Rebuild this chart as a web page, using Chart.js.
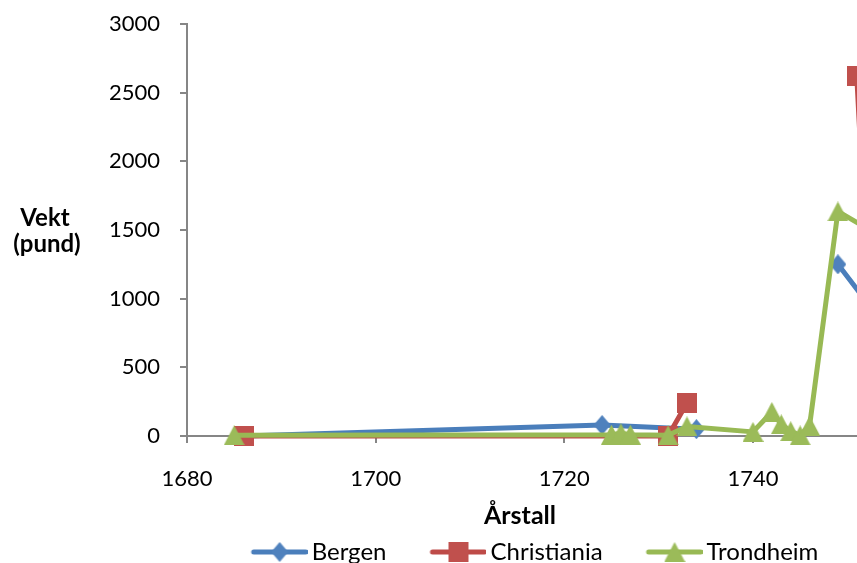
<!DOCTYPE html>
<html>
<head>
<meta charset="utf-8">
<script src="https://cdn.jsdelivr.net/npm/chart.js"></script>
<style>
  html, body { margin: 0; padding: 0; overflow: hidden; background: #fff; }
  #chart { display: block; }
</style>
</head>
<body>
<canvas id="chart" width="1036" height="574"></canvas>
<script>
// data (null = gap in the series)
const bergenYears = [1686, 1724, 1734, 1740, 1749, 1753];
const bergenWeights = [0, 80, 50, null, 1250, 890];
const christianiaYears = [1686, 1731, 1733, 1740, 1751, 1753];
const christianiaWeights = [0, 0, 240, null, 2620, 0];
const trondheimYears = [1685, 1725, 1726, 1727, 1731, 1733, 1740, 1742, 1743, 1744, 1745, 1746, 1749, 1753];
const trondheimWeights = [5, 10, 20, 10, 5, 70, 30, 175, 85, 35, 5, 75, 1635, 1475];
const seriesNames = ['Bergen', 'Christiania', 'Trondheim'];
const yearTicks = [1680, 1700, 1720, 1740, 1760];
const weightTicks = [0, 500, 1000, 1500, 2000, 2500, 3000];

const lineColors = ['#4A7EBB', '#BE4B48', '#98B954'];
const markColors = ['#4F81BD', '#C0504D', '#9BBB59'];

function pairs(xs, ys) {
  return xs.map((x, i) => ({ x: x, y: ys[i] }));
}

// markers as small canvases, Excel style
function marker(kind, color) {
  const c = document.createElement('canvas');
  const w = kind === 'diamond' ? 17 : kind === 'triangle' ? 21 : 20;
  const h = 20;
  c.width = w; c.height = h;
  const g = c.getContext('2d');
  g.fillStyle = color;
  g.beginPath();
  if (kind === 'diamond') {
    g.moveTo(w / 2, 0); g.lineTo(w, h / 2); g.lineTo(w / 2, h); g.lineTo(0, h / 2);
  } else if (kind === 'triangle') {
    g.moveTo(w / 2, 0); g.lineTo(w, h); g.lineTo(0, h);
  } else {
    g.rect(0, 0, w, h);
  }
  g.closePath();
  g.fill();
  return c;
}

// legend icon: line with marker in the middle (left part left blank for spacing)
function legendIcon(mark, color) {
  const c = document.createElement('canvas');
  c.width = 98; c.height = 22;
  const g = c.getContext('2d');
  g.strokeStyle = color;
  g.lineWidth = 5;
  g.lineCap = 'round';
  g.beginPath();
  g.moveTo(44, 11); g.lineTo(96, 11);
  g.stroke();
  g.drawImage(mark, 70 - mark.width / 2, 11 - mark.height / 2);
  return c;
}

const marks = [
  marker('diamond', markColors[0]),
  marker('square', markColors[1]),
  marker('triangle', markColors[2])
];
const legendIcons = marks.map((m, i) => legendIcon(m, lineColors[i]));

const axisTitles = {
  id: 'axisTitles',
  afterDraw(chart) {
    const ctx = chart.ctx;
    ctx.save();
    ctx.fillStyle = '#000';
    ctx.textAlign = 'center';
    ctx.textBaseline = 'middle';
    ctx.font = 'bold 24px Lato';
    ctx.fillText('Vekt', 45, 218);
    ctx.fillText('(pund)', 47, 244);
    ctx.font = 'bold 25px Lato';
    ctx.fillText('Årstall', 520, 516);
    ctx.restore();
  }
};

function dataset(i, xs, ys, order) {
  return {
    label: seriesNames[i],
    data: pairs(xs, ys),
    borderColor: lineColors[i],
    backgroundColor: markColors[i],
    borderWidth: 5,
    borderJoinStyle: 'round',
    borderCapStyle: 'round',
    pointStyle: marks[i],
    pointRadius: 10,
    tension: 0,
    fill: false,
    spanGaps: false,
    clip: false,
    order: order
  };
}

const chart = new Chart(document.getElementById('chart'), {
  type: 'line',
  data: {
    datasets: [
      dataset(0, bergenYears, bergenWeights, 3),
      dataset(1, christianiaYears, christianiaWeights, 2),
      dataset(2, trondheimYears, trondheimWeights, 1)
    ]
  },
  options: {
    responsive: false,
    animation: false,
    layout: { autoPadding: false, padding: { top: 24, left: 0, right: 0, bottom: 0 } },
    scales: {
      x: {
        type: 'linear',
        min: 1680,
        max: 1770,
        afterFit: s => { s.height = 94; s.paddingLeft = 0; s.paddingRight = 0; },
        afterBuildTicks: s => { s.ticks = yearTicks.map(v => ({ value: v })); },
        ticks: {
          autoSkip: false,
          maxRotation: 0,
          padding: 23,
          color: '#000',
          font: { family: 'Lato', size: 22 },
          callback: v => String(v)
        },
        grid: { drawOnChartArea: false, color: '#868686', lineWidth: 2, tickLength: 7 },
        border: { color: '#868686', width: 2 }
      },
      y: {
        min: 0,
        max: 3000,
        afterFit: s => { s.width = 187; s.paddingTop = 0; s.paddingBottom = 0; },
        afterBuildTicks: s => { s.ticks = weightTicks.map(v => ({ value: v })); },
        ticks: {
          padding: 20,
          color: '#000',
          font: { family: 'Lato', size: 22 },
          callback: v => String(v)
        },
        grid: { drawOnChartArea: false, color: '#868686', lineWidth: 2, tickLength: 7 },
        border: { color: '#868686', width: 2 }
      }
    },
    plugins: {
      tooltip: { enabled: false },
      legend: {
        position: 'bottom',
        labels: {
          usePointStyle: true,
          pointStyleWidth: 82,
          padding: 10,
          color: '#000',
          font: { family: 'Lato', size: 24 },
          sort: (a, b) => a.datasetIndex - b.datasetIndex,
          generateLabels: c => Chart.defaults.plugins.legend.labels.generateLabels(c)
            .map(item => Object.assign(item, { pointStyle: legendIcons[item.datasetIndex] }))
        }
      }
    }
  },
  plugins: [axisTitles]
});
</script>
</body>
</html>
